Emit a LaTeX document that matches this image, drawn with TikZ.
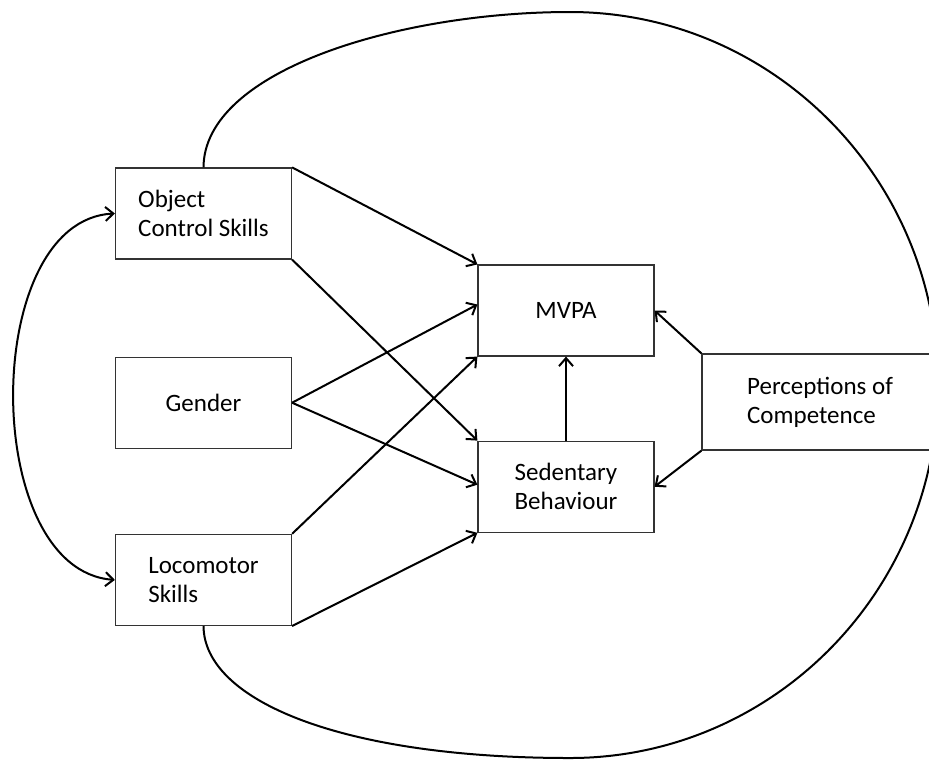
\documentclass[tikz,border=0pt]{standalone}
\usepackage{fontspec}
\setmainfont{Carlito}
\usetikzlibrary{arrows.meta,positioning}

\begin{document}
\begin{tikzpicture}[x=0.5pt,y=-0.5pt]
		\tikzstyle{var}=[draw=black!80, line width=0.6pt, minimum width=88pt, minimum height=45.5pt, align=left, font=\fontsize{12.5}{14.5}\selectfont]
		\tikzstyle{effect}=[line width=1pt, -{Straight Barb[length=4pt,width=7pt]}]
		\tikzstyle{covar}=[line width=1pt, {Straight Barb[length=4pt,width=7pt]}-{Straight Barb[length=4pt,width=7pt]}]
		\tikzstyle{loopline}=[line width=1pt]

		\useasboundingbox (0,0) rectangle (929,761);
		\clip (0,0) rectangle (929,761);

		% predictors
		\node [var] (ocs) at (203.5,213.5) {Object\\Control Skills};
		\node [var] (gender) [below=48.5pt of ocs] {Gender};
		\node [var] (loco) [below=42.5pt of gender] {Locomotor\\Skills};

		% outcomes
		\node [var] (mvpa) at (566,310.5) {MVPA};
		\node [var] (sed) [below=42pt of mvpa] {Sedentary\\Behaviour};
		\node [var, minimum width=118pt, minimum height=48pt] (pc) at (820,402) {Perceptions of\\Competence};

		% paths
		\draw [effect] (ocs.north east) -- (mvpa.north west);
		\draw [effect] (ocs.south east) -- (sed.north west);
		\draw [effect] (gender.east) -- ([yshift=3pt]mvpa.west);
		\draw [effect] (gender.east) -- ([yshift=1pt]sed.west);
		\draw [effect] (loco.north east) -- (mvpa.south west);
		\draw [effect] (loco.south east) -- (sed.south west);
		\draw [effect] (sed.north) -- (mvpa.south);
		\draw [effect] (pc.north west) -- (mvpa.east);
		\draw [effect] (pc.south west) -- (sed.east);

		% correlations
		\draw [covar] (ocs.west) .. controls (-20,220) and (-20,570) .. (loco.west);
		\draw [loopline] (ocs.north) .. controls (204,70) and (400,12) .. (570,12)
			.. controls (773,12) and (938,179) .. (938,385)
			.. controls (938,591) and (773,758) .. (570,758)
			.. controls (340,758) and (204,700) .. (loco.south);

	\end{tikzpicture}
\end{document}
